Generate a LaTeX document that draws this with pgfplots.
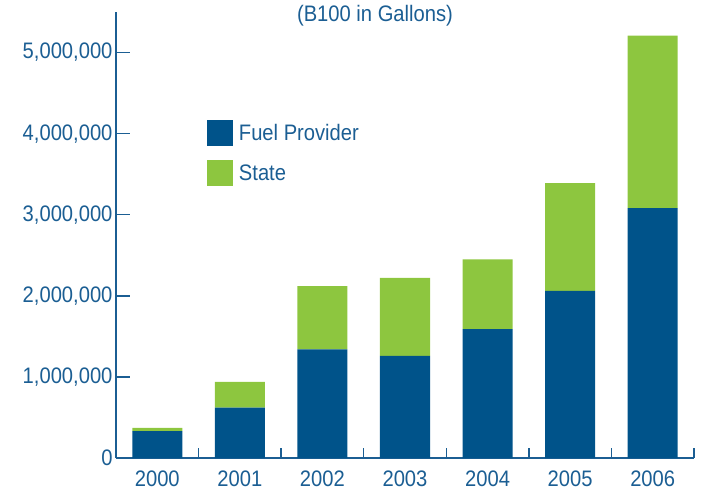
\documentclass[border=0pt]{standalone}
\usepackage{fontspec}
\setmainfont[FakeStretch=0.9]{Liberation Sans}
\usepackage{pgfplots}
\pgfplotsset{compat=1.18}
\definecolor{fuelblue}{HTML}{00538A}
\definecolor{stategreen}{HTML}{8DC63F}
\definecolor{txtblue}{HTML}{1B5E93}
\begin{document}
\begin{tikzpicture}
\path[use as bounding box] (0,0) rectangle (701bp,490bp);
\begin{axis}[
  at={(116bp,32bp)}, anchor=south west,
  scale only axis, width=578bp, height=446bp,
  ybar stacked, bar width=50bp,
  xmin=-0.5, xmax=6.5, ymin=0, ymax=5500000,
  axis x line=bottom, axis y line=left,
  axis line style={draw=txtblue, line width=1.5bp, -},
  xtick={0,...,6}, xticklabels={2000,2001,2002,2003,2004,2005,2006},
  major x tick style={draw=none},
  minor xtick={0.5,1.5,...,6.5},
  minor x tick style={draw=txtblue, line width=1.5bp},
  minor tick length=10bp,
  ytick={0,1000000,...,5000000},
  y tick style={draw=txtblue, line width=1.5bp},
  major tick length=14bp,
  tick align=inside,
  scaled y ticks=false,
  yticklabel style={/pgf/number format/fixed, /pgf/number format/1000 sep={,}},
  /pgf/number format/assume math mode=true,
  tick label style={font=\fontsize{22.5}{26}\selectfont, text=txtblue},
  xticklabel style={yshift=-9bp},
  yticklabel style={xshift=0bp},
  legend style={at={(0.157,0.758)}, anchor=north west, draw=none, fill=none,
    inner sep=0pt, row sep=14bp, font=\fontsize{22.5}{26}\selectfont, text=txtblue,
    cells={anchor=west}},
  legend image code/.code={\fill[#1] (0bp,-13bp) rectangle (26bp,13bp); \path (30bp,0bp);},
  clip=false,
]
\addplot[fill=fuelblue, draw=none] coordinates {(0,330000) (1,620000) (2,1340000) (3,1260000) (4,1590000) (5,2060000) (6,3080000)};
\addplot[fill=stategreen, draw=none] coordinates {(0,40000) (1,320000) (2,780000) (3,960000) (4,860000) (5,1330000) (6,2130000)};
\legend{Fuel Provider, State}
\end{axis}
\node[text=txtblue, font=\fontsize{22.5}{26}\selectfont] at (375bp,474bp) {(B100 in Gallons)};
\end{tikzpicture}
\end{document}
